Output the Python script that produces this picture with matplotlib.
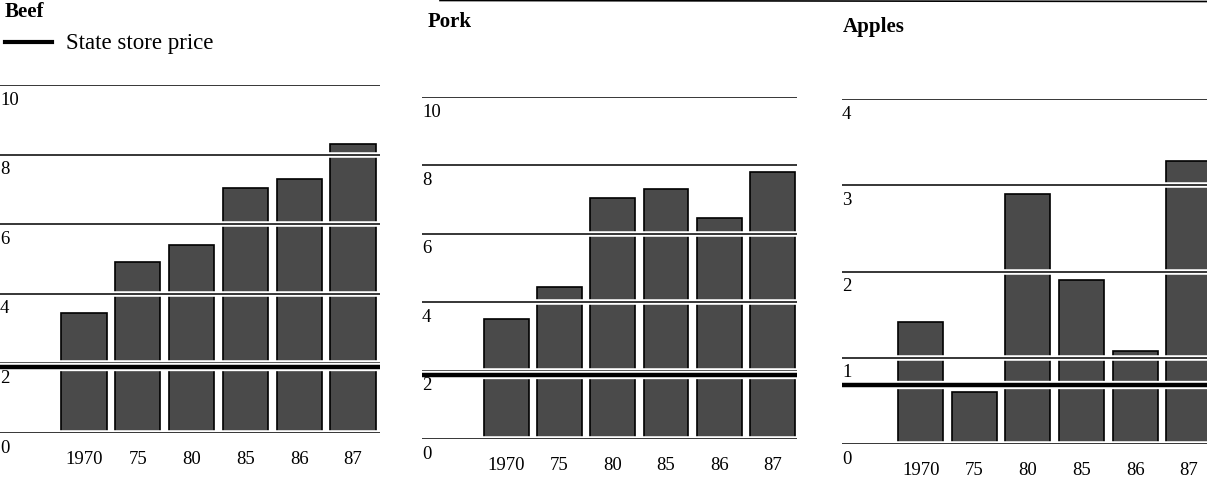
import numpy as np
import matplotlib
matplotlib.use("Agg")
import matplotlib.pyplot as plt
from matplotlib.lines import Line2D

plt.rcParams['font.family'] = ['Liberation Serif', 'DejaVu Serif']

years = ['1970', '75', '80', '85', '86', '87']

beef = [3.45, 4.9, 5.4, 7.05, 7.3, 8.3]
pork = [3.5, 4.45, 7.05, 7.3, 6.45, 7.8]
apples = [1.42, 0.6, 2.9, 1.9, 1.08, 3.28]

beef_state = 1.9
pork_state = 1.88
apples_state = 0.68

beef_ticks = [0, 2, 4, 6, 8, 10]
pork_ticks = [0, 2, 4, 6, 8, 10]
apples_ticks = [0, 1, 2, 3, 4]

W, H = 1207, 481
fig = plt.figure(figsize=(W / 100, H / 100), dpi=100)

BAR = '#4a4a4a'


def px_axes(x0, x1, y_bottom, y_top):
    # pixel box (from top-left) -> figure fraction axes
    return fig.add_axes([x0 / W, 1 - y_bottom / H, (x1 - x0) / W, (y_bottom - y_top) / H])


def panel(ax, vals, state, ticks, xlim, title, title_xy):
    x = np.arange(len(vals))
    ax.bar(x, vals, width=0.84, color=BAR, edgecolor='black', linewidth=1.2, zorder=2)
    for t in ticks:
        ax.axhline(t, color='white', lw=4, zorder=3)
        ax.axhline(t, color='black', lw=1.1, zorder=4)
        ax.annotate(str(t), xy=(0, t), xycoords=('axes fraction', 'data'),
                    xytext=(0, -4), textcoords='offset points',
                    ha='left', va='top', fontsize=13.5, zorder=10)
    ax.axhline(state, color='white', lw=6, zorder=5)
    ax.axhline(state, color='black', lw=3.2, zorder=6)
    ax.set_xlim(*xlim)
    ax.set_ylim(ticks[0], ticks[-1])
    ax.set_xticks(x)
    ax.set_xticklabels(years, fontsize=13.5)
    ax.tick_params(axis='x', length=0, pad=12)
    ax.set_yticks([])
    for s in ax.spines.values():
        s.set_visible(False)
    fig.text(title_xy[0] / W, 1 - title_xy[1] / H, title, fontsize=15,
             fontweight='bold', ha='left', va='center')


ax1 = px_axes(0, 380, 434, 86)
panel(ax1, beef, beef_state, beef_ticks, (-1.56, 5.5), 'Beef', (5, 12))

ax2 = px_axes(422, 797, 440, 98)
panel(ax2, pork, pork_state, pork_ticks, (-1.58, 5.46), 'Pork', (428, 22))

ax3 = px_axes(842, 1207, 445, 100)
panel(ax3, apples, apples_state, apples_ticks, (-1.47, 5.34), 'Apples', (843, 27))

# legend for state store price
fig.add_artist(Line2D([5 / W, 52 / W], [1 - 43 / H, 1 - 43 / H], color='black', lw=3))
fig.text(66 / W, 1 - 43 / H, 'State store price', fontsize=16.5, ha='left', va='center')

# page border line along the top
fig.add_artist(Line2D([440 / W, 1.0], [1 - 1.5 / H, 1 - 2.5 / H], color='black', lw=1.2))

fig.savefig('out.png', dpi=100)
